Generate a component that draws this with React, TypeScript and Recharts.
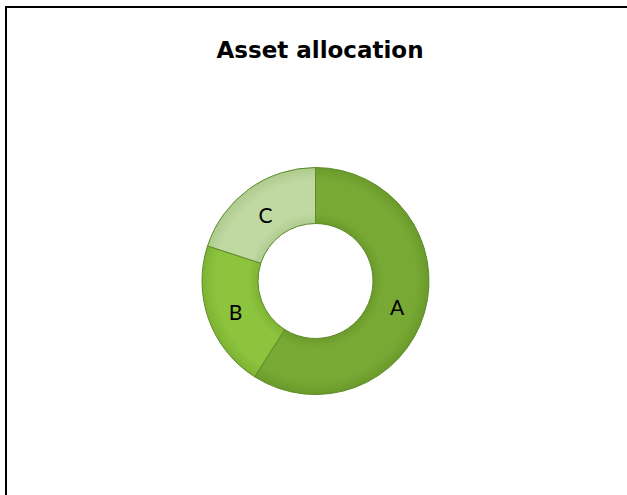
import { PieChart, Pie, Cell } from "recharts";

const categories = ["A", "B", "C"];
const values = [59, 21, 20];
const colors = ["#79A935", "#8CC43E", "#C0D9A3"];
const edgeColors = ["#6A9A2A", "#7DB332", "#AECB8E"];

const data = categories.map((name, i) => ({ name, value: values[i] }));

const RADIAN = Math.PI / 180;
const CX = 315.5;
const CY = 281;

function SliceLabel(props: any) {
  const { cx, cy, midAngle, name } = props;
  const r = 85;
  const x = cx + r * Math.cos(-midAngle * RADIAN);
  const y = cy + r * Math.sin(-midAngle * RADIAN) + 2;
  return (
    <text
      x={x}
      y={y}
      textAnchor="middle"
      dominantBaseline="central"
      fill="#000"
      fontSize={21}
      fontFamily="Lato, 'Open Sans', sans-serif"
    >
      {name}
    </text>
  );
}

export default function App() {
  return (
    <div
      style={{
        position: "absolute",
        left: 0,
        top: 0,
        width: 627,
        height: 495,
        overflow: "hidden",
        background: "#fff",
      }}
    >
      <div
        style={{
          position: "absolute",
          left: 5,
          top: 6,
          width: 640,
          height: 510,
          borderTop: "2px solid #000",
          borderLeft: "2px solid #000",
        }}
      />
      <div
        style={{
          position: "absolute",
          left: 0,
          width: 640,
          top: 37,
          textAlign: "center",
          fontFamily: "'DejaVu Sans', Verdana, sans-serif",
          fontWeight: "bold",
          fontSize: 23,
          color: "#000",
        }}
      >
        Asset allocation
      </div>
      <div style={{ position: "absolute", left: 0, top: 0 }}>
        <PieChart width={627} height={495} margin={{ top: 0, right: 0, bottom: 0, left: 0 }}>
          <defs>
            {colors.map((c, i) => (
              <radialGradient
                key={i}
                id={`ring${i}`}
                gradientUnits="userSpaceOnUse"
                cx={CX}
                cy={CY}
                r={113.5}
              >
                <stop offset="0.5" stopColor={edgeColors[i]} />
                <stop offset="0.6" stopColor={c} />
                <stop offset="0.88" stopColor={c} />
                <stop offset="1" stopColor={edgeColors[i]} />
              </radialGradient>
            ))}
          </defs>
          <Pie
            data={data}
            dataKey="value"
            nameKey="name"
            cx={CX}
            cy={CY}
            innerRadius={57.5}
            outerRadius={113.5}
            startAngle={90}
            endAngle={-270}
            stroke="#5E8A2A"
            strokeWidth={1}
            label={SliceLabel}
            labelLine={false}
            isAnimationActive={false}
          >
            {data.map((d, i) => (
              <Cell key={d.name} fill={`url(#ring${i})`} />
            ))}
          </Pie>
        </PieChart>
      </div>
    </div>
  );
}
